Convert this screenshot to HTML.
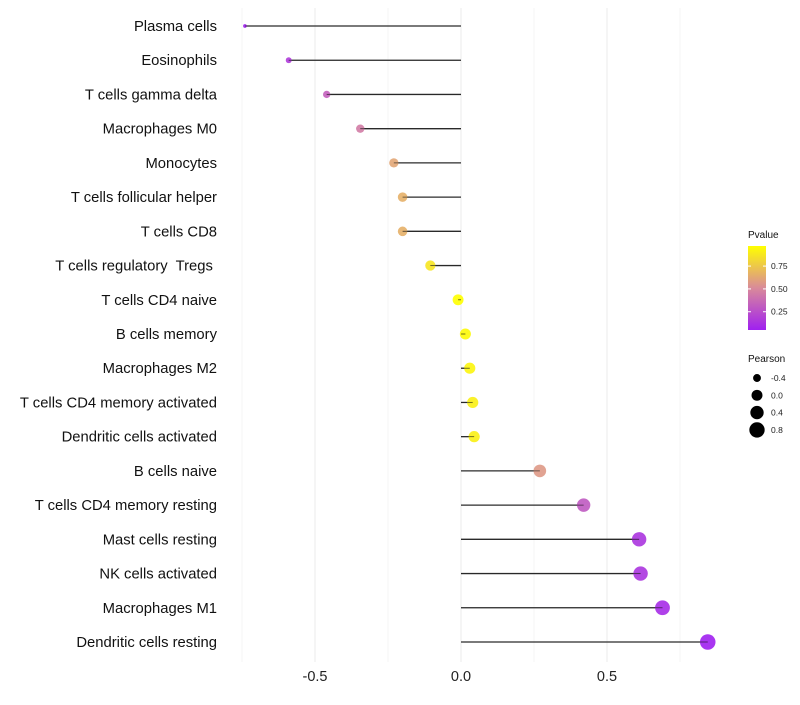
<!DOCTYPE html>
<html><head><meta charset="utf-8"><style>
body{margin:0;background:#fff;font-family:"Liberation Sans",sans-serif}
text{white-space:pre}
</style></head><body>
<svg id="chart" width="800" height="700" xmlns="http://www.w3.org/2000/svg"></svg>
<script>
const categories=["Plasma cells","Eosinophils","T cells gamma delta","Macrophages M0","Monocytes","T cells follicular helper","T cells CD8","T cells regulatory  Tregs ","T cells CD4 naive","B cells memory","Macrophages M2","T cells CD4 memory activated","Dendritic cells activated","B cells naive","T cells CD4 memory resting","Mast cells resting","NK cells activated","Macrophages M1","Dendritic cells resting"];
const pearson=[-0.74,-0.59,-0.46,-0.345,-0.23,-0.2,-0.2,-0.105,-0.01,0.015,0.03,0.04,0.045,0.27,0.42,0.61,0.615,0.69,0.845];
const pvalue=[0.05,0.17,0.33,0.45,0.62,0.66,0.66,0.87,0.98,0.95,0.93,0.91,0.91,0.57,0.3,0.14,0.14,0.1,0.03];
const xTicks=[-0.5,0,0.5];
const xTickLabels=["-0.5","0.0","0.5"];
const xMinor=[-0.75,-0.25,0.25,0.75];
const pTicks=[0.25,0.5,0.75];
const pTickLabels=["0.25","0.50","0.75"];
const sizeLegend=[-0.4,0.0,0.4,0.8];
const sizeLegendLabels=["-0.4","0.0","0.4","0.8"];

const NS="http://www.w3.org/2000/svg";
const svg=document.getElementById('chart');
const X=v=>461+v*292;
const Y=i=>26+i*(642-26)/(categories.length-1);
const R=v=>Math.sqrt(Math.max(1,30+36*v));
function lerp(a,b,t){return a+(b-a)*t}
function hex(c){return [parseInt(c.slice(1,3),16),parseInt(c.slice(3,5),16),parseInt(c.slice(5,7),16)]}
const stops=[hex("#A020F0"),hex("#D98A9A"),hex("#FFFF00")];
function color(p){let t=(p-0.05)/(0.97-0.05);t=Math.max(0,Math.min(1,t));
 let a,b,u;if(t<0.5){a=stops[0];b=stops[1];u=t*2}else{a=stops[1];b=stops[2];u=(t-0.5)*2}
 return `rgb(${[0,1,2].map(k=>Math.round(lerp(a[k],b[k],u))).join(',')})`;}
function el(tag,attrs,parent){const e=document.createElementNS(NS,tag);for(const k in attrs)e.setAttribute(k,attrs[k]);(parent||svg).appendChild(e);return e;}

xMinor.forEach(v=>{const l=el('line',{x1:X(v),x2:X(v),y1:8,y2:662,stroke:'#f5f5f5','stroke-width':1});

});
xTicks.forEach((v,i)=>{const l=el('line',{x1:X(v),x2:X(v),y1:8,y2:662,stroke:'#ebebeb','stroke-width':1});


const t=el('text',{x:X(v),y:681,'text-anchor':'middle','font-size':14.5,fill:'#222'});t.textContent=xTickLabels[i];

});

categories.forEach((c,i)=>{
 const t=el('text',{x:217,y:Y(i)+5,'text-anchor':'end','font-size':14.8,fill:'#111'});t.textContent=c;
 
 
 const l=el('line',{x1:X(0),x2:X(pearson[i]),y1:Y(i),y2:Y(i),stroke:'#333','stroke-width':1.3});
 
 
 const d=el('circle',{cx:X(pearson[i]),cy:Y(i),r:R(pearson[i]),fill:color(pvalue[i]),'fill-opacity':0.9});
 
 
 const l2=el('line',{x1:X(0),x2:X(pearson[i]),y1:Y(i),y2:Y(i),stroke:'#222','stroke-width':0.8,'stroke-opacity':0.7});
 
 
});

const lg=el('g',{});


const tt=el('text',{x:748,y:238,'font-size':10,fill:'#111'},lg);tt.textContent='Pvalue';


const defs=el('defs',{});
const grad=el('linearGradient',{id:'pg',x1:0,y1:1,x2:0,y2:0},defs);
[0,0.5,1].forEach((o,k)=>el('stop',{offset:o,'stop-color':`rgb(${stops[k].join(',')})`},grad));
const bar=el('rect',{x:748,y:246,width:18,height:84,fill:'url(#pg)'},lg);


const PY=p=>330-(p-0.05)/(0.97-0.05)*84;
pTicks.forEach((p,i)=>{el('line',{x1:748,x2:751,y1:PY(p),y2:PY(p),stroke:'#fff'},lg);el('line',{x1:763,x2:766,y1:PY(p),y2:PY(p),stroke:'#fff'},lg);
 const t=el('text',{x:771,y:PY(p)+3,'font-size':8.5,fill:'#222'},lg);t.textContent=pTickLabels[i];
 
 });
const sg=el('g',{});


const st=el('text',{x:748,y:362,'font-size':10,fill:'#111'},sg);st.textContent='Pearson';


sizeLegend.forEach((v,i)=>{const y=378+i*17.3;
 const c=el('circle',{cx:757,cy:y,r:R(v),fill:'#000'},sg);
 
 
 const t=el('text',{x:771,y:y+3,'font-size':8.5,fill:'#222'},sg);t.textContent=sizeLegendLabels[i];
 
 });
</script>
</body></html>
